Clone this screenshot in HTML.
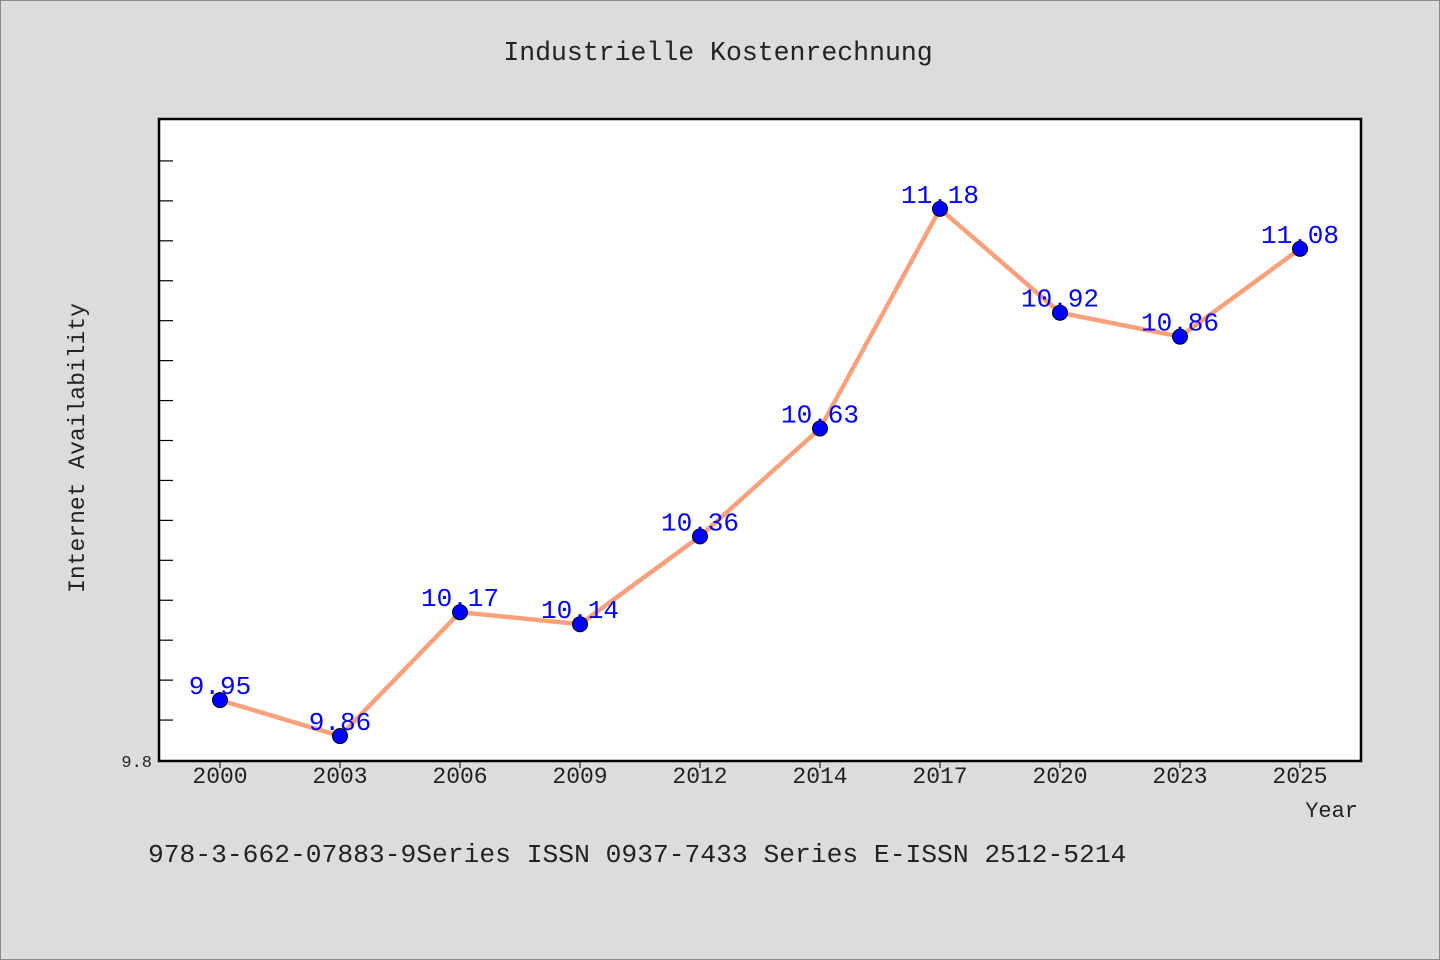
<!DOCTYPE html>
<html><head><meta charset="utf-8"><style>
html,body{margin:0;background:#dcdcdc;overflow:hidden;width:1440px;height:960px;}
svg{display:block;}
svg text{font-family:"Liberation Mono",monospace;}
</style></head><body>
<svg id="chart" width="1440" height="960" xmlns="http://www.w3.org/2000/svg">
<rect x="0.5" y="0.5" width="1439" height="959" fill="#dcdcdc" stroke="#888"/>
<text x="718" y="60" font-size="26.5" text-anchor="middle" fill="#222">Industrielle Kostenrechnung</text>
<rect x="159" y="119" width="1202" height="642" fill="#fff" stroke="#000" stroke-width="2.5"/>
<g id="yticks"></g><g id="xticks"></g>
<polyline id="line" fill="none" stroke="#f9a07c" stroke-width="4.5"/>
<g id="pts"></g>
<text x="152" y="767" font-size="17" text-anchor="end" fill="#222">9.8</text>
<text x="84" y="448" font-size="23" text-anchor="middle" fill="#222" transform="rotate(-90 84 448)">Internet Availability</text>
<text x="1358" y="817" font-size="22" text-anchor="end" fill="#222">Year</text>
<text x="148" y="862" font-size="26.3" fill="#222">978-3-662-07883-9Series ISSN 0937-7433 Series E-ISSN 2512-5214</text>
</svg>
<script>
const categories=["2000","2003","2006","2009","2012","2014","2017","2020","2023","2025"];
const values=[9.95,9.86,10.17,10.14,10.36,10.63,11.18,10.92,10.86,11.08];
const labels=["9.95","9.86","10.17","10.14","10.36","10.63","11.18","10.92","10.86","11.08"];
const yMin=9.8,yMax=11.405;
const NS="http://www.w3.org/2000/svg";
const x=i=>220+i*120;
const y=v=>760-(v-yMin)/(yMax-yMin)*641;
function mk(t,a,p){const e=document.createElementNS(NS,t);for(const k in a)e.setAttribute(k,a[k]);p.appendChild(e);return e;}
const yt=document.getElementById('yticks');
for(let v=yMin+0.1;v<yMax-0.05;v+=0.1){const l=mk('line',{x1:159,x2:173,y1:y(v),y2:y(v),stroke:'#000','stroke-width':1.2},yt);

}
const xt=document.getElementById('xticks');
categories.forEach((c,i)=>{const l=mk('line',{x1:x(i),x2:x(i),y1:761,y2:768,stroke:'#000','stroke-width':1},xt);


const t=mk('text',{x:x(i),y:783,'font-size':23,'text-anchor':'middle',fill:'#222'},xt);t.textContent=c;

});
document.getElementById('line').setAttribute('points',values.map((v,i)=>x(i)+','+y(v)).join(' '));
const pg=document.getElementById('pts');
values.forEach((v,i)=>{const c=mk('circle',{cx:x(i),cy:y(v),r:7.5,fill:'#0000ff',stroke:'#000','stroke-width':1},pg);


const t=mk('text',{x:x(i),y:y(v)-6,'font-size':26,'text-anchor':'middle',fill:'#0000ff'},pg);t.textContent=labels[i];

});
</script>
</body></html>
